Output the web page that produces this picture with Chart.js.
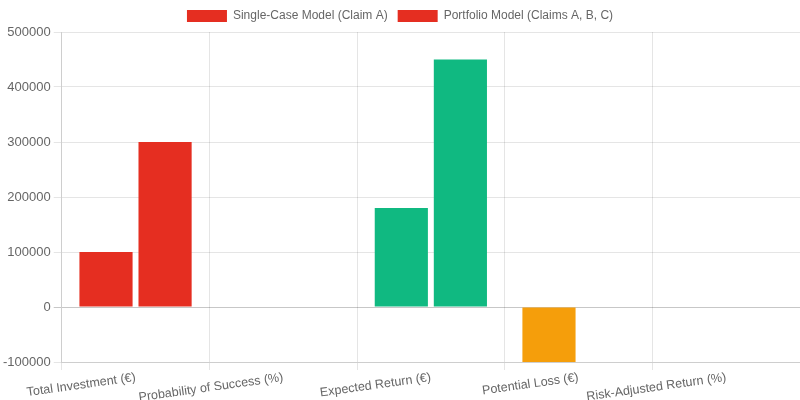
<!DOCTYPE html>
<html>
<head>
<meta charset="utf-8">
<script src="https://cdn.jsdelivr.net/npm/chart.js@4"></script>
<style>
  html, body { margin: 0; padding: 0; background: #fff; }
  #wrap { width: 800px; height: 400px; position: relative; }
</style>
</head>
<body>
<div id="wrap"><canvas id="chart"></canvas></div>
<script>
// ── DATA ──
const categories = ['Total Investment (€)', 'Probability of Success (%)', 'Expected Return (€)', 'Potential Loss (€)', 'Risk-Adjusted Return (%)'];
const singleCase = [100000, null, 180000, -100000, null];
const portfolio  = [300000, null, 450000, null, null];
const barColors  = ['#e52e21', '#3b82f6', '#10b981', '#f59e0b', '#8b5cf6'];
const yTicks     = { min: -100000, max: 500000, step: 100000 };

Chart.defaults.font.family = "'Liberation Sans', Arial, sans-serif";
Chart.defaults.color = '#666';

new Chart(document.getElementById('chart'), {
    type: 'bar',
    data: {
        labels: categories,
        datasets: [
            { label: 'Single-Case Model (Claim A)', data: singleCase, backgroundColor: barColors },
            { label: 'Portfolio Model (Claims A, B, C)', data: portfolio, backgroundColor: barColors }
        ]
    },
    options: {
        responsive: true, maintainAspectRatio: false, animation: false,
        plugins: { legend: { position: 'top', labels: { font: { size: 12 } } } },
        scales: {
            x: {
                grid: { color: 'rgba(0,0,0,0.1)' },
                ticks: { font: { size: 12.5 }, minRotation: 8, maxRotation: 8, padding: 0 },
                afterFit: s => { s.height = 38; }
            },
            y: {
                min: yTicks.min, max: yTicks.max,
                ticks: { stepSize: yTicks.step, font: { size: 13 }, callback: v => String(v) },
                grid: { color: c => c.tick && c.tick.value === 0 ? 'rgba(0,0,0,0.22)' : 'rgba(0,0,0,0.1)' }
            }
        }
    }
});
</script>
</body>
</html>
